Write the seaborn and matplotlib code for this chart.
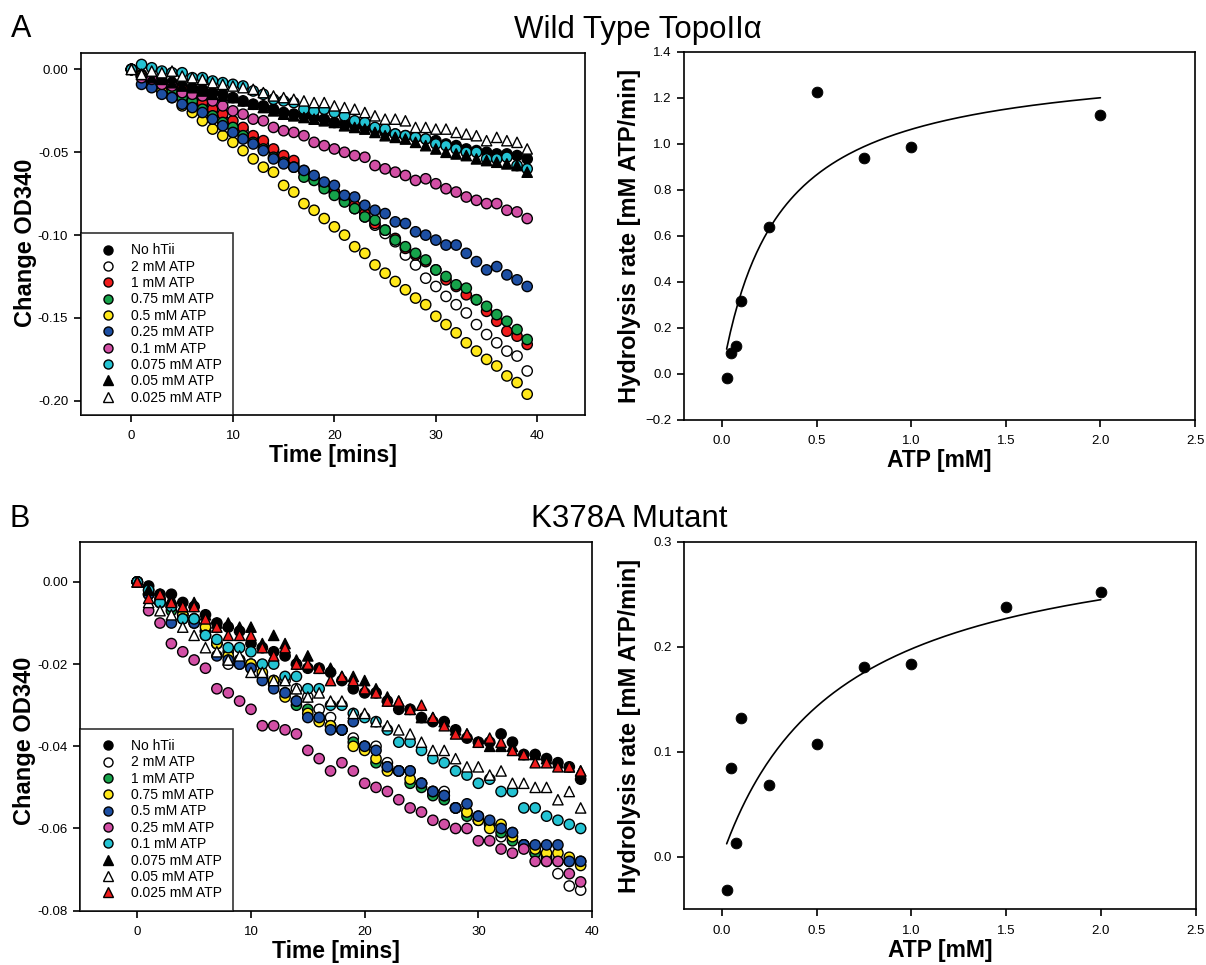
import numpy as np
import pandas as pd
import matplotlib
matplotlib.use('Agg')
import matplotlib.pyplot as plt
from matplotlib.lines import Line2D
import seaborn as sns

# ---- data ----
time_min = list(range(40))

series_labels = ['No hTii', '2 mM ATP', '1 mM ATP', '0.75 mM ATP', '0.5 mM ATP',
                 '0.25 mM ATP', '0.1 mM ATP', '0.075 mM ATP', '0.05 mM ATP', '0.025 mM ATP']

# panel A, wild type: change in OD340 per minute
wt_no_htii = [0, -0.003, -0.005, -0.007, -0.008, -0.010, -0.011, -0.012, -0.014, -0.015,
              -0.017, -0.019, -0.021, -0.022, -0.024, -0.026, -0.027, -0.028, -0.029, -0.030,
              -0.032, -0.033, -0.034, -0.035, -0.036, -0.038, -0.039, -0.040, -0.041, -0.042,
              -0.043, -0.045, -0.046, -0.048, -0.049, -0.050, -0.051, -0.051, -0.052, -0.054]
wt_2mm = [0, -0.004, -0.007, -0.010, -0.013, -0.016, -0.019, -0.022, -0.026, -0.030,
          -0.034, -0.037, -0.041, -0.045, -0.049, -0.053, -0.057, -0.061, -0.066, -0.070,
          -0.074, -0.079, -0.084, -0.089, -0.094, -0.099, -0.104, -0.112, -0.118, -0.126,
          -0.131, -0.137, -0.142, -0.147, -0.154, -0.160, -0.165, -0.170, -0.173, -0.182]
wt_1mm = [0, -0.004, -0.006, -0.009, -0.011, -0.012, -0.016, -0.020, -0.024, -0.027,
          -0.031, -0.035, -0.040, -0.043, -0.048, -0.052, -0.055, -0.062, -0.066, -0.070,
          -0.074, -0.078, -0.082, -0.087, -0.093, -0.097, -0.102, -0.108, -0.112, -0.116,
          -0.121, -0.127, -0.131, -0.136, -0.139, -0.146, -0.152, -0.158, -0.161, -0.166]
wt_075mm = [0, -0.004, -0.007, -0.010, -0.013, -0.017, -0.019, -0.024, -0.028, -0.032,
            -0.035, -0.040, -0.044, -0.048, -0.053, -0.056, -0.059, -0.065, -0.067, -0.072,
            -0.076, -0.080, -0.084, -0.089, -0.091, -0.097, -0.103, -0.107, -0.111, -0.115,
            -0.121, -0.125, -0.130, -0.132, -0.139, -0.143, -0.148, -0.152, -0.157, -0.163]
wt_05mm = [0, -0.004, -0.009, -0.013, -0.017, -0.022, -0.026, -0.031, -0.036, -0.040,
           -0.044, -0.049, -0.054, -0.059, -0.062, -0.070, -0.074, -0.081, -0.085, -0.090,
           -0.095, -0.100, -0.107, -0.111, -0.118, -0.123, -0.128, -0.133, -0.138, -0.142,
           -0.149, -0.154, -0.159, -0.165, -0.170, -0.175, -0.179, -0.185, -0.189, -0.196]
wt_025mm = [0, -0.009, -0.011, -0.015, -0.017, -0.021, -0.023, -0.026, -0.030, -0.034,
            -0.038, -0.042, -0.045, -0.049, -0.054, -0.057, -0.059, -0.061, -0.064, -0.068,
            -0.070, -0.076, -0.077, -0.082, -0.085, -0.087, -0.092, -0.093, -0.098, -0.100,
            -0.103, -0.106, -0.106, -0.111, -0.116, -0.121, -0.119, -0.124, -0.127, -0.131]
wt_01mm = [0, -0.005, -0.006, -0.009, -0.010, -0.014, -0.015, -0.016, -0.019, -0.022,
           -0.025, -0.027, -0.030, -0.031, -0.035, -0.037, -0.038, -0.040, -0.044, -0.046,
           -0.048, -0.050, -0.052, -0.053, -0.058, -0.060, -0.062, -0.064, -0.067, -0.066,
           -0.069, -0.072, -0.074, -0.077, -0.079, -0.081, -0.081, -0.085, -0.086, -0.090]
wt_0075mm = [0, 0.003, 0.001, -0.001, -0.002, -0.002, -0.005, -0.005, -0.007, -0.008,
             -0.009, -0.010, -0.013, -0.015, -0.018, -0.019, -0.020, -0.024, -0.025, -0.024,
             -0.026, -0.028, -0.031, -0.032, -0.035, -0.036, -0.039, -0.040, -0.041, -0.042,
             -0.045, -0.046, -0.048, -0.050, -0.050, -0.054, -0.054, -0.053, -0.058, -0.060]
wt_005mm = [0, -0.003, -0.005, -0.006, -0.008, -0.010, -0.011, -0.013, -0.015, -0.016,
            -0.017, -0.019, -0.021, -0.023, -0.025, -0.027, -0.028, -0.029, -0.030, -0.031,
            -0.032, -0.034, -0.035, -0.036, -0.038, -0.040, -0.041, -0.042, -0.044, -0.046,
            -0.048, -0.050, -0.051, -0.052, -0.054, -0.055, -0.056, -0.057, -0.058, -0.062]
wt_0025mm = [0, -0.003, -0.001, -0.002, -0.001, -0.004, -0.005, -0.006, -0.008, -0.009,
             -0.010, -0.011, -0.012, -0.014, -0.016, -0.017, -0.018, -0.019, -0.020, -0.020,
             -0.022, -0.023, -0.024, -0.026, -0.028, -0.030, -0.030, -0.031, -0.035, -0.035,
             -0.036, -0.036, -0.038, -0.039, -0.040, -0.043, -0.041, -0.043, -0.044, -0.048]

# panel B, K378A mutant
mut_no_htii = [0, -0.001, -0.003, -0.003, -0.005, -0.006, -0.008, -0.010, -0.011, -0.012,
               -0.015, -0.016, -0.017, -0.018, -0.020, -0.021, -0.021, -0.022, -0.024, -0.026,
               -0.027, -0.027, -0.029, -0.031, -0.031, -0.033, -0.034, -0.034, -0.036, -0.038,
               -0.039, -0.039, -0.037, -0.039, -0.042, -0.042, -0.043, -0.044, -0.045, -0.048]
mut_2mm = [0, -0.003, -0.005, -0.006, -0.008, -0.009, -0.012, -0.015, -0.020, -0.020,
           -0.021, -0.023, -0.024, -0.024, -0.026, -0.028, -0.031, -0.033, -0.036, -0.038,
           -0.040, -0.040, -0.044, -0.046, -0.046, -0.049, -0.051, -0.051, -0.055, -0.056,
           -0.057, -0.059, -0.062, -0.061, -0.064, -0.066, -0.068, -0.071, -0.074, -0.075]
mut_1mm = [0, -0.003, -0.005, -0.007, -0.008, -0.009, -0.012, -0.015, -0.017, -0.019,
           -0.020, -0.023, -0.025, -0.027, -0.030, -0.031, -0.033, -0.035, -0.036, -0.039,
           -0.040, -0.044, -0.045, -0.046, -0.049, -0.050, -0.052, -0.053, -0.055, -0.057,
           -0.058, -0.059, -0.061, -0.063, -0.064, -0.066, -0.067, -0.068, -0.068, -0.068]
mut_075mm = [0, -0.002, -0.004, -0.006, -0.008, -0.010, -0.011, -0.015, -0.018, -0.019,
             -0.020, -0.022, -0.024, -0.028, -0.029, -0.032, -0.034, -0.035, -0.036, -0.040,
             -0.041, -0.043, -0.046, -0.046, -0.048, -0.049, -0.051, -0.052, -0.055, -0.056,
             -0.058, -0.060, -0.059, -0.062, -0.064, -0.065, -0.066, -0.066, -0.067, -0.069]
mut_05mm = [0, -0.003, -0.005, -0.010, -0.009, -0.010, -0.013, -0.018, -0.019, -0.020,
            -0.021, -0.024, -0.026, -0.027, -0.029, -0.033, -0.033, -0.036, -0.036, -0.034,
            -0.040, -0.041, -0.045, -0.046, -0.046, -0.049, -0.051, -0.052, -0.055, -0.054,
            -0.057, -0.058, -0.060, -0.061, -0.064, -0.064, -0.064, -0.064, -0.068, -0.068]
mut_025mm = [0, -0.007, -0.010, -0.015, -0.017, -0.019, -0.021, -0.026, -0.027, -0.029,
             -0.031, -0.035, -0.035, -0.036, -0.037, -0.041, -0.043, -0.046, -0.044, -0.046,
             -0.049, -0.050, -0.051, -0.053, -0.055, -0.056, -0.058, -0.059, -0.060, -0.060,
             -0.063, -0.063, -0.065, -0.066, -0.065, -0.068, -0.068, -0.068, -0.071, -0.073]
mut_01mm = [0, -0.002, -0.005, -0.006, -0.009, -0.009, -0.013, -0.014, -0.016, -0.016,
            -0.017, -0.020, -0.020, -0.023, -0.023, -0.026, -0.026, -0.030, -0.030, -0.032,
            -0.033, -0.034, -0.036, -0.039, -0.039, -0.041, -0.043, -0.044, -0.046, -0.047,
            -0.049, -0.048, -0.051, -0.051, -0.055, -0.055, -0.057, -0.058, -0.059, -0.060]
mut_0075mm = [0, -0.002, -0.003, -0.004, -0.006, -0.005, -0.008, -0.010, -0.010, -0.011,
              -0.011, -0.015, -0.013, -0.015, -0.019, -0.018, -0.021, -0.021, -0.023, -0.023,
              -0.024, -0.026, -0.028, -0.029, -0.031, -0.033, -0.033, -0.034, -0.036, -0.037,
              -0.039, -0.040, -0.040, -0.040, -0.042, -0.042, -0.043, -0.044, -0.045, -0.046]
mut_005mm = [0, -0.005, -0.007, -0.008, -0.011, -0.013, -0.016, -0.017, -0.019, -0.018,
             -0.022, -0.022, -0.024, -0.024, -0.026, -0.028, -0.027, -0.029, -0.029, -0.032,
             -0.032, -0.034, -0.035, -0.036, -0.037, -0.039, -0.041, -0.041, -0.043, -0.045,
             -0.045, -0.047, -0.046, -0.049, -0.049, -0.050, -0.050, -0.053, -0.051, -0.055]
mut_0025mm = [0, -0.004, -0.003, -0.005, -0.006, -0.006, -0.009, -0.011, -0.013, -0.013,
              -0.013, -0.016, -0.018, -0.016, -0.020, -0.020, -0.021, -0.024, -0.023, -0.024,
              -0.026, -0.027, -0.029, -0.029, -0.031, -0.030, -0.033, -0.035, -0.037, -0.037,
              -0.039, -0.038, -0.039, -0.041, -0.042, -0.044, -0.044, -0.045, -0.045, -0.046]

# hydrolysis rates vs ATP concentration
atp_wt = [0.025, 0.05, 0.075, 0.1, 0.25, 0.5, 0.75, 1.0, 2.0]
rate_wt = [-0.02, 0.09, 0.12, 0.316, 0.638, 1.225, 0.939, 0.985, 1.125]
atp_mut = [0.025, 0.05, 0.075, 0.1, 0.25, 0.5, 0.75, 1.0, 1.5, 2.0]
rate_mut = [-0.032, 0.085, 0.013, 0.132, 0.068, 0.107, 0.181, 0.184, 0.238, 0.252]

# Michaelis-Menten fit parameters (Vmax, Km)
fit_wt = (1.378, 0.297)
fit_mut = (0.321, 0.622)

# ---- styles ----
colors_a = ['black', 'white', '#f01c1c', '#16a34a', '#ffe81a', '#1d4fa3', '#d24fa5', '#24c3d3', 'black', 'white']
markers_a = ['o'] * 8 + ['^'] * 2
colors_b = ['black', 'white', '#16a34a', '#ffe81a', '#1d4fa3', '#d24fa5', '#24c3d3', 'black', 'white', '#f01c1c']
markers_b = ['o'] * 7 + ['^'] * 3

sns.set_style('ticks')
plt.rcParams['font.family'] = ['Liberation Sans', 'DejaVu Sans']
plt.rcParams['axes.linewidth'] = 1.2
for key in ['text.color', 'axes.labelcolor', 'xtick.color', 'ytick.color', 'axes.edgecolor']:
    plt.rcParams[key] = 'black'


def long_df(series_list):
    rows = []
    for lab, vals in zip(series_labels, series_list):
        for t, v in zip(time_min, vals):
            rows.append({'time': t, 'od': v, 'series': lab})
    return pd.DataFrame(rows)


def kinetics_panel(ax, series_list, colors, markers, xlim, ylim, yticks, ylab_y):
    df = long_df(series_list)
    sns.scatterplot(data=df, x='time', y='od', hue='series', style='series',
                    hue_order=series_labels, style_order=series_labels,
                    palette=dict(zip(series_labels, colors)),
                    markers=dict(zip(series_labels, markers)),
                    s=55, edgecolor='black', linewidth=1.0, legend=False, ax=ax)
    ax.set_xlim(*xlim)
    ax.set_ylim(*ylim)
    ax.set_xticks([0, 10, 20, 30, 40])
    ax.set_yticks(yticks)
    ax.set_yticklabels(['{:.2f}'.format(v) for v in yticks])
    ax.set_xlabel('Time [mins]', fontsize=16.5, fontweight='bold', labelpad=1.5)
    ax.set_ylabel('Change OD340', fontsize=17, fontweight='bold')
    ax.yaxis.set_label_coords(-0.086, ylab_y)
    handles = [Line2D([], [], linestyle='', marker=m, markersize=6.5, markerfacecolor=c,
                      markeredgecolor='black', markeredgewidth=1.0)
               for c, m in zip(colors, markers)]
    leg = ax.legend(handles, series_labels, loc='lower left', bbox_to_anchor=(0, 0),
                    borderaxespad=0, fontsize=10, frameon=True, fancybox=False,
                    handlelength=2.4, handletextpad=0.5, labelspacing=0.17, borderpad=0.75)
    leg.get_frame().set_edgecolor('black')
    leg.get_frame().set_linewidth(1.2)


def rate_panel(ax, atp, rate, fit, ylim, yticks):
    sns.scatterplot(x=atp, y=rate, color='black', s=60, edgecolor='black', ax=ax)
    vmax, km = fit
    xs = np.linspace(atp[0], 2.0, 200)
    sns.lineplot(x=xs, y=vmax * xs / (km + xs), color='black', linewidth=1.2, ax=ax)
    ax.set_xlim(-0.2, 2.5)
    ax.set_ylim(*ylim)
    ax.set_xticks([0.0, 0.5, 1.0, 1.5, 2.0, 2.5])
    ax.set_yticks(yticks)
    ax.set_xlabel('ATP [mM]', fontsize=16.5, fontweight='bold', labelpad=1.5)
    ax.set_ylabel('Hydrolysis rate [mM ATP/min]', fontsize=17, fontweight='bold')
    ax.yaxis.set_label_coords(-0.084, 0.5)


fig = plt.figure(figsize=(12.06, 9.65), dpi=100)
ax_a1 = fig.add_axes([0.0669, 0.5699, 0.4182, 0.3748])
ax_a2 = fig.add_axes([0.5672, 0.5651, 0.4237, 0.3813])
ax_b1 = fig.add_axes([0.0667, 0.0563, 0.4242, 0.3824])
ax_b2 = fig.add_axes([0.5672, 0.0577, 0.4241, 0.3809])

kinetics_panel(ax_a1, [wt_no_htii, wt_2mm, wt_1mm, wt_075mm, wt_05mm, wt_025mm, wt_01mm,
                       wt_0075mm, wt_005mm, wt_0025mm],
               colors_a, markers_a, (-5, 44.7), (-0.2086, 0.0097),
               [0.0, -0.05, -0.10, -0.15, -0.20], 0.475)
kinetics_panel(ax_b1, [mut_no_htii, mut_2mm, mut_1mm, mut_075mm, mut_05mm, mut_025mm, mut_01mm,
                       mut_0075mm, mut_005mm, mut_0025mm],
               colors_b, markers_b, (-5, 40), (-0.08, 0.0098),
               [0.0, -0.02, -0.04, -0.06, -0.08], 0.46)
rate_panel(ax_a2, atp_wt, rate_wt, fit_wt, (-0.2, 1.4), [-0.2, 0.0, 0.2, 0.4, 0.6, 0.8, 1.0, 1.2, 1.4])
rate_panel(ax_b2, atp_mut, rate_mut, fit_mut, (-0.05, 0.3), [0.0, 0.1, 0.2, 0.3])

for ax in [ax_a1, ax_a2, ax_b1, ax_b2]:
    ax.tick_params(direction='out', length=5, width=1.2, labelsize=9.5)
    ax.tick_params(axis='x', pad=6)
    ax.tick_params(axis='y', pad=4)
    for sp in ax.spines.values():
        sp.set_visible(True)
        sp.set_linewidth(1.2)

fig.text(0.009, 0.970, 'A', fontsize=22, va='center')
fig.text(0.529, 0.969, 'Wild Type TopoIIα', fontsize=22.5, ha='center', va='center')
fig.text(0.008, 0.462, 'B', fontsize=22, va='center')
fig.text(0.522, 0.462, 'K378A Mutant', fontsize=22.5, ha='center', va='center')

fig.savefig('out.png', dpi=100, facecolor='white')
